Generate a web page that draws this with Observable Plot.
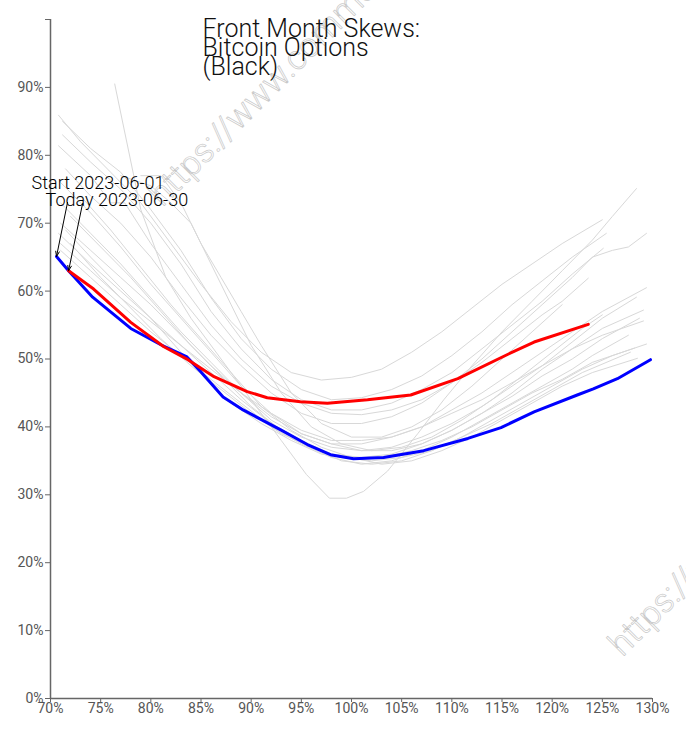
<!DOCTYPE html>
<html>
<head>
<meta charset="utf-8">
<script src="https://cdn.jsdelivr.net/npm/d3@7"></script>
<script src="https://cdn.jsdelivr.net/npm/@observablehq/plot@0.6"></script>
<style>
  html, body { margin: 0; padding: 0; background: white; }
  #chart svg { font-family: Roboto, sans-serif; }
</style>
</head>
<body>
<div id="chart"></div>
<script>
// ---- data (strike %, implied vol %) ----
const titleLines = ["Front Month Skews:", "Bitcoin Options", "(Black)"];
const startLabel = "Start 2023-06-01";
const todayLabel = "Today 2023-06-30";
const watermark = "https://www.commo";

const startStrikes = [70.6, 71.8, 74.2, 78.0, 81.0, 83.6, 85.0, 87.2, 89.2, 92.9, 95.6, 97.9, 100.2, 103.2, 107.2, 111.6, 114.9, 118.2, 122.5, 124.1, 126.5, 129.8];
const startVols    = [65.1, 63.0, 59.1, 54.5, 52.1, 50.3, 48.1, 44.4, 42.5, 39.6, 37.4, 35.9, 35.3, 35.5, 36.5, 38.3, 39.9, 42.2, 44.7, 45.6, 47.1, 49.9];

const todayStrikes = [71.8, 74.3, 78.0, 81.3, 83.7, 86.3, 89.6, 91.6, 94.9, 97.6, 101.6, 105.9, 110.6, 115.6, 118.2, 123.6];
const todayVols    = [63.0, 60.3, 55.4, 51.8, 49.9, 47.4, 45.2, 44.3, 43.7, 43.5, 44.0, 44.7, 47.1, 50.7, 52.5, 55.1];

// intermediate days of the month (grey)
const midDays = [
  [[76.4,90.5],[79,72],[81.5,62],[84,56],[87,50],[90,44],[93,38],[95.5,33],[97.8,29.5],[99.5,29.5],[101.2,30.5],[103.6,33.5],[106.6,39],[109.2,44],[112,49],[115,54],[118,58.5],[121,63],[124,67.5],[126,71],[128.4,75.1]],
  [[70.8,85.9],[73,82],[76,77.5],[79,73],[82,67],[85,61],[88,55.5],[91,51],[94,48],[97,46.9],[100,47.3],[103,48.5],[106,51],[109,54],[112,57.5],[115,61],[118,64],[121,67],[125,70.5]],
  [[71.2,85.0],[74,81],[77,77.5],[80,72],[83,66],[86,59],[89,53],[92,48.5],[95,45.5],[98,44],[101,44.3],[104,45.5],[107,47.5],[110,50.5],[113,54],[116,58],[119,61.5],[122,65],[125.4,68.5]],
  [[71.2,83],[74,79],[77,75],[80,70],[83,64],[86,57],[89,51.5],[92,47],[95,44],[98,42.5],[101,42.5],[104,43.5],[107,45.5],[110,48],[113,51.5],[116,55],[119,58.5],[122,62.5],[125.1,66.3]],
  [[70.8,81.4],[74,77],[76,73],[77.4,73],[80,67],[83,61],[86,55],[89,50],[92,46],[95,43.5],[98,42],[101,41.8],[104,42.5],[107,44],[110,46.5],[113,49.5],[116,53],[119,56.5],[121,58.5],[123.6,61.9]],
  [[71.5,78],[74,74],[77,70],[80,65],[83,59],[86,53.5],[89,49],[92,45],[95,42],[98,40.5],[101,40.5],[104,41.5],[107,43.5],[110,46.5],[113,50],[116,54],[119,58],[122,62],[124,65],[126,66],[127.6,66.5],[129.4,68.5]],
  [[71,76],[74,71.5],[77,66.5],[80,61],[83,56],[86,51],[89,46],[92,42],[95,39],[98,37.5],[101,37.5],[104,38.5],[107,40],[110,42.5],[113,45],[116,48],[119,51],[122,54],[125,57],[129.4,60.5]],
  [[71,73],[74,68.5],[77,64],[80,59],[83,54],[86,49.5],[89,45],[92,41],[95,38.5],[98,37],[101,36.5],[104,37],[107,38.5],[110,40.5],[113,43],[116,46],[119,49],[122,52.5],[125,56],[128.4,59.1]],
  [[71,70],[74,66],[77,62],[80,58],[83,53.5],[86,49],[89,45],[92,41.5],[95,39],[98,37.5],[101,36.5],[104,36.5],[107,37.5],[110,39.5],[113,42],[116,45],[119,48.5],[122,51.5],[125,54.5],[129.1,57.2]],
  [[70.8,68.5],[74,64],[77,60],[80,56],[83,52],[86,48],[89,44],[92,40.5],[95,38],[98,36],[101,35.5],[104,36],[107,37.5],[110,39.5],[113,42],[116,44.5],[119,47.5],[122,50],[125,53],[128.7,56]],
  [[71,67],[74,63],[77,59],[80,55.5],[83,52],[86,48.5],[89,45],[92,42],[95,39.5],[98,38],[101,38],[104,38.5],[107,40],[110,42],[113,44],[116,46.5],[119,49],[122,51.5],[125,53.5],[129.1,55.6]],
  [[71,66],[74,62],[77,58],[80,54],[83,50.5],[86,47],[89,43.5],[92,40],[95,37.5],[98,35.5],[101,34.5],[104,35],[107,36.5],[110,38.5],[113,41],[116,43.5],[119,46],[122,48.5],[124,50.5],[127.6,53.5]],
  [[72,67],[75,62],[78,57.5],[81,53],[84,49],[87,45.5],[90,42],[93,39],[96,37],[99,35],[102,34.5],[105,35],[108,36.5],[111,38.5],[114,41],[117,43.5],[120,46],[123,48.5],[126,50.5],[129.4,52.2]],
  [[71.5,69],[74,65],[77,60.5],[80,56],[83,51],[85.5,47],[88,43.5],[91,40.5],[94,38],[97,36],[100,35.3],[103,35.5],[106,36.5],[109,38],[112,40],[115,42.5],[118,45],[121,47],[124,49.5],[128.2,51.6]],
  [[72,71],[75,66.5],[78,62],[81,57],[84,52],[87,47.5],[90,43],[93,39.5],[96,37],[99,35.5],[102,35],[105,35.5],[108,36.5],[111,38.5],[114,40.5],[117,43],[120,45.5],[123,48],[127.8,51]],
  [[73,74],[76,69],[79,63.5],[82,58],[85,53],[88,48],[91,43],[94,39.5],[97,37],[100,35.5],[103,34.5],[106,35],[109,36.5],[112,38.5],[115,41],[118,43.5],[121,46],[124,48],[128.5,50.1]],
  [[77,77],[80,75.5],[82,73],[84,70],[86,64],[88,58],[90,52],[93,45],[96,40],[99,37.5],[102,36.5],[105,37],[108,38.5],[111,41],[114,44],[117,47.5],[120,51],[123,54.5],[125,56.5]],
  [[79,77],[81,77],[83,73],[85,67],[87,62],[89,57],[91,52],[94,45],[97,40.5],[100,38.5],[103,38.5],[106,40],[109,42.5],[112,46],[115,50],[118,54],[121,58]]
];

const xTicks = [70, 75, 80, 85, 90, 95, 100, 105, 110, 115, 120, 125, 130];
const yTicks = [0, 10, 20, 30, 40, 50, 60, 70, 80, 90, 100];

// ---- build tables ----
const greyRows = midDays.flatMap((c, i) => c.map(([k, v]) => ({day: i, strike: k, vol: v})));
const startRows = startStrikes.map((k, i) => ({strike: k, vol: startVols[i]}));
const todayRows = todayStrikes.map((k, i) => ({strike: k, vol: todayVols[i]}));

const W = 686, H = 730, mL = 50, mR = 34, mT = 19, mB = 32;
const xDomain = [70, 130], yDomain = [0, 100];
// pixel <-> data helpers (same mapping as the Plot scales) for annotation arrow tails
const px = d3.scaleLinear(xDomain, [mL, W - mR]);
const py = d3.scaleLinear(yDomain, [H - mB, mT]);

const annStart = {label: startLabel, strike: startStrikes[0], vol: startVols[0]};
const annToday = {label: todayLabel, strike: todayStrikes[0], vol: todayVols[0]};
const tail = (a, dx, dy) => ({...a, tx: px.invert(px(a.strike) + dx), ty: py.invert(py(a.vol) + dy)});
const arrows = [tail(annStart, 11, -54), tail(annToday, 14, -67)];

const axisColor = "#666";
const wmStyle = {frameAnchor: "top-left", text: d => d, rotate: -45, textAnchor: "start", lineAnchor: "bottom",
  fontSize: 34, fontWeight: 300, fill: "none", stroke: "#c8c8c8", strokeWidth: 0.7};
const annStyle = {x: "strike", y: "vol", text: "label", textAnchor: "start", lineAnchor: "bottom",
  fontSize: 18, fontWeight: 300, fill: "black"};

const chart = Plot.plot({
  width: W, height: H,
  marginLeft: mL, marginRight: mR, marginTop: mT, marginBottom: mB,
  style: {fontFamily: "Roboto, sans-serif", background: "white", overflow: "hidden"},
  x: {domain: xDomain, label: null},
  y: {domain: yDomain, label: null},
  marks: [
    // watermark
    Plot.text([watermark], {...wmStyle, dx: 112, dy: 188}),
    Plot.text([watermark], {...wmStyle, dx: 572, dy: 638}),
    Plot.axisX({ticks: xTicks, tickFormat: d => d + "%", tickSize: 4, tickPadding: 1, fontSize: 14, color: "#555", stroke: axisColor, label: null}),
    Plot.axisY({ticks: yTicks, tickFormat: d => d === 100 ? "" : d + "%", tickSize: 5, tickPadding: 2, fontSize: 14, color: "#555", stroke: axisColor, label: null}),
    Plot.ruleX([70], {stroke: axisColor, strokeWidth: 1.5}),
    Plot.ruleY([0], {stroke: axisColor, strokeWidth: 1.5}),
    Plot.line(greyRows, {x: "strike", y: "vol", z: "day", stroke: "#d8d8d8", strokeWidth: 1}),
    Plot.line(startRows, {x: "strike", y: "vol", stroke: "#0000ff", strokeWidth: 3}),
    Plot.line(todayRows, {x: "strike", y: "vol", stroke: "#ff0000", strokeWidth: 3}),
    Plot.arrow(arrows, {x1: "tx", y1: "ty", x2: "strike", y2: "vol", stroke: "black", strokeWidth: 1, headLength: 8, headAngle: 40, insetEnd: 0}),
    Plot.text([annStart], {...annStyle, dx: -25, dy: -67}),
    Plot.text([annToday], {...annStyle, dx: -23, dy: -65}),
    Plot.text([titleLines.join("\n")], {frameAnchor: "top-left", text: d => d, dx: 152, dy: 4,
      textAnchor: "start", lineAnchor: "top", lineHeight: 0.76, fontSize: 25, fontWeight: 300, fill: "#111"})
  ]
});
document.getElementById("chart").appendChild(chart);
</script>
</body>
</html>
